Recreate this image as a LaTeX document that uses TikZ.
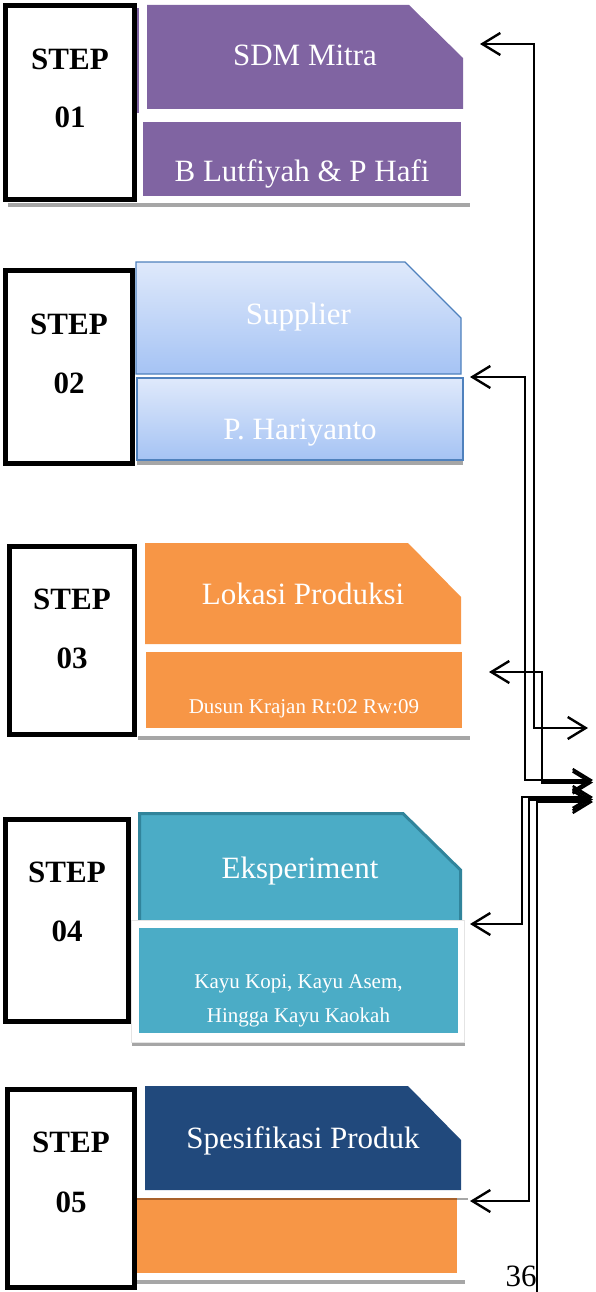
\documentclass[tikz,border=0pt]{standalone}
\usepackage{fontspec}
\setmainfont{Liberation Serif}
\usetikzlibrary{arrows.meta}
\definecolor{purp}{HTML}{8064A2}
\definecolor{bluebd}{HTML}{4F81BD}
\definecolor{bluetop}{HTML}{DFE9FB}
\definecolor{bluebot}{HTML}{A5C3F4}
\definecolor{orng}{HTML}{F79646}
\definecolor{teala}{HTML}{4BACC6}
\definecolor{tealbd}{HTML}{31849B}
\definecolor{navy}{HTML}{21497C}
\definecolor{shad}{HTML}{A6A6A6}
\definecolor{brwn}{HTML}{A8612B}
\definecolor{framegray}{HTML}{E4E4E4}
\begin{document}
\begin{tikzpicture}[x=1pt,y=-1pt,
  stepbox/.style={draw=black,line width=5pt,fill=white,rectangle,inner sep=0pt},
  lowbox/.style={rectangle,inner sep=0pt},
  steptxt/.style={font=\fontsize{31}{34}\selectfont\bfseries,anchor=base,inner sep=0pt},
  headtxt/.style={font=\fontsize{31}{34}\selectfont,text=white,anchor=base,inner sep=0pt},
  smalltxt/.style={font=\fontsize{21}{24}\selectfont,text=white,anchor=base,inner sep=0pt},
  conn/.style={line width=2.4pt,black},
  dbl/.style={{Straight Barb[length=18pt,width=22pt]}-{Straight Barb[length=18pt,width=22pt]}},
  sgl/.style={-{Straight Barb[length=18pt,width=22pt]}}]
\useasboundingbox (0,0) rectangle (595,1292);

% ---------- STEP 01 ----------
\fill[shad] (8,203) rectangle (470,207);
\fill[purp] (136,8) rectangle (138.5,113);
\node[stepbox,minimum width=129pt,minimum height=194pt] (s1) at (70,102.5) {};
\node[steptxt] (s1a) at (70,70) {STEP};
\node[steptxt] (s1b) at (70,128) {01};
\fill[purp] (147,5) -- (409,5) -- (463,58) -- (463,109) -- (147,109) -- cycle;
\node[headtxt] (h1) at (305,66) {SDM Mitra};
\node[lowbox,fill=purp,minimum width=318pt,minimum height=74pt] (l1) at (302,159) {};
\node[headtxt] (l1t) at (302,182) {B Lutfiyah \& P Hafi};

% ---------- STEP 02 ----------
\fill[shad] (137,460) rectangle (463,464.5);
\node[stepbox,minimum width=127pt,minimum height=193pt] (s2) at (69,367) {};
\node[steptxt] (s2a) at (69,334) {STEP};
\node[steptxt] (s2b) at (69,393) {02};
\path[draw=bluebd,line width=1.2pt,top color=bluetop,bottom color=bluebot]
  (136,262) -- (405,262) -- (461,318) -- (461,374) -- (136,374) -- cycle;
\node[headtxt] (h2) at (298.5,324) {Supplier};
\node[lowbox,draw=bluebd,line width=1.2pt,top color=bluetop,bottom color=bluebot,minimum width=326pt,minimum height=82pt] (l2) at (300,419) {};
\node[headtxt] (l2t) at (300,439) {P. Hariyanto};

% ---------- STEP 03 ----------
\fill[shad] (138,736) rectangle (470,740);
\node[stepbox,minimum width=125pt,minimum height=188pt] (s3) at (72,640.5) {};
\node[steptxt] (s3a) at (72,609) {STEP};
\node[steptxt] (s3b) at (72,668) {03};
\fill[orng] (145,543) -- (408,543) -- (461,597) -- (461,644) -- (145,644) -- cycle;
\node[headtxt] (h3) at (303,604) {Lokasi Produksi};
\node[lowbox,fill=orng,minimum width=316pt,minimum height=76pt] (l3) at (304,690) {};
\node[smalltxt] (l3t) at (304,713) {Dusun Krajan Rt:02 Rw:09};

% ---------- STEP 04 ----------
\fill[shad] (132,1042) rectangle (465,1046);
\node[stepbox,minimum width=123pt,minimum height=202pt] (s4) at (67,920.5) {};
\node[steptxt] (s4a) at (67,882) {STEP};
\node[steptxt] (s4b) at (67,941) {04};
\path[fill=teala,draw=tealbd,line width=3pt]
  (139.5,813.5) -- (403,813.5) -- (460.5,870) -- (460.5,922) -- (139.5,922) -- cycle;
\node[headtxt] (h4) at (300,878) {Eksperiment};
\path[fill=white,draw=framegray,line width=0.8pt] (131.5,920) rectangle (464.5,1042);
\node[lowbox,fill=teala,minimum width=319pt,minimum height=105pt] (l4) at (298.5,980.5) {};
\begin{scope}
\clip (139,928) rectangle (458,1033);
\node[smalltxt] (l4t) at (298.5,988) {Kayu Kopi, Kayu Asem,};
\node[smalltxt] (l4u) at (298.5,1022) {Hingga Kayu Kaokah};
\end{scope}

% ---------- STEP 05 ----------
\fill[shad] (137,1280) rectangle (465,1284);
\node[stepbox,minimum width=127pt,minimum height=198pt] (s5) at (71,1188.5) {};
\node[steptxt] (s5a) at (71,1152) {STEP};
\node[steptxt] (s5b) at (71,1212) {05};
\fill[navy] (145,1086) -- (408,1086) -- (461,1140) -- (461,1190) -- (145,1190) -- cycle;
\node[headtxt] (h5) at (303,1148) {Spesifikasi Produk};
\node[lowbox,fill=orng,minimum width=320pt,minimum height=74pt] (l5) at (297,1236) {};
\draw[brwn,line width=2pt] (l5.north west) -- (l5.north east);
\draw[shad,line width=2pt] (l5.north east) -- ++(11,0);

% ---------- page number ----------
\node[font=\fontsize{31}{34}\selectfont,anchor=base,inner sep=0pt] (pg) at (521,1286.5) {36};

% ---------- connectors ----------
\coordinate (a1) at (480,44);
\coordinate (a2) at (470,377);
\coordinate (a3) at (489,672);
\coordinate (a4) at (470,924);
\coordinate (a5) at (470,1201);
\coordinate (e1) at (588,728);
\coordinate (e2) at (593,780);
\coordinate (e3) at (593,782.5);
\coordinate (e4) at (593,797);
\coordinate (e5) at (593,799.5);
\coordinate (e6) at (593,802);
\coordinate (bot) at (537,1292);

\draw[conn,dbl] (a1) -- ++(54,0) |- (e1);
\draw[conn,dbl] (a2) -- ++(55,0) |- (e2);
\draw[conn,dbl] (a3) -- ++(53,0) |- (e3);
\draw[conn,dbl] (a4) -- ++(52,0) |- (e4);
\draw[conn,dbl] (a5) -- ++(59,0) |- (e5);
\draw[conn,sgl] (bot) |- (e6);
\end{tikzpicture}
\end{document}
